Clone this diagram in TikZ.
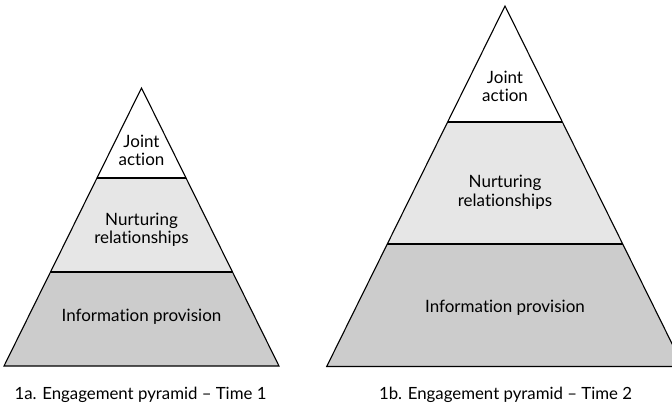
\documentclass[tikz,border=0pt]{standalone}
\usepackage{fontspec}
\setmainfont{Lato}[Ligatures={NoCommon}]
\tikzset{
  band/.style={draw=black, line width=1.1pt, line join=miter},
  lbl/.style={anchor=base, font=\fontsize{17}{19}\selectfont, inner sep=0pt},
  caption/.style={anchor=base, font=\fontsize{16.8}{19}\selectfont, inner sep=0pt}
}
\definecolor{midgray}{HTML}{E6E6E6}
\definecolor{lowgray}{HTML}{CCCCCC}
\begin{document}
\begin{tikzpicture}[x=1pt,y=-1pt]
\useasboundingbox (0,0) rectangle (672,405);
\def\k{0.4946}
% Left pyramid: apex (141.5,88), base y=366
\coordinate (LA) at (141.5,88);
\coordinate (L1l) at ({141.5-\k*90},178);
\coordinate (L1r) at ({141.5+\k*90},178);
\coordinate (L2l) at ({141.5-\k*184},272);
\coordinate (L2r) at ({141.5+\k*184},272);
\coordinate (L3l) at ({141.5-\k*278},366);
\coordinate (L3r) at ({141.5+\k*278},366);
\fill[lowgray] (L2l) -- (L2r) -- (L3r) -- (L3l) -- cycle;
\fill[midgray] (L1l) -- (L1r) -- (L2r) -- (L2l) -- cycle;
\draw[band] (LA) -- (L3r) -- (L3l) -- cycle;
\draw[band] (L1l) -- (L1r);
\draw[band] (L2l) -- (L2r);
\node[lbl] (lj1) at (141.5,147) {Joint};
\node[lbl] (lj2) at (141.5,165.5) {action};
\node[lbl] (ln1) at (141.5,225) {Nurturing};
\node[lbl] (ln2) at (141.5,243.5) {relationships};
\node[lbl] (lip) at (141.5,321) {Information provision};
\node[caption] (lcap) at (140.5,399) {1a. Engagement pyramid – Time 1};
% Right pyramid: apex (505,6), base y=366.5
\coordinate (RA) at (505,6);
\coordinate (R1l) at ({505-\k*116},122);
\coordinate (R1r) at ({505+\k*116},122);
\coordinate (R2l) at ({505-\k*238},244);
\coordinate (R2r) at ({505+\k*238},244);
\coordinate (R3l) at ({505-\k*360.5},366.5);
\coordinate (R3r) at ({505+\k*360.5},366.5);
\fill[lowgray] (R2l) -- (R2r) -- (R3r) -- (R3l) -- cycle;
\fill[midgray] (R1l) -- (R1r) -- (R2r) -- (R2l) -- cycle;
\draw[band] (RA) -- (R3r) -- (R3l) -- cycle;
\draw[band] (R1l) -- (R1r);
\draw[band] (R2l) -- (R2r);
\node[lbl] (rj1) at (505,83) {Joint};
\node[lbl] (rj2) at (505,101.5) {action};
\node[lbl] (rn1) at (505,187.5) {Nurturing};
\node[lbl] (rn2) at (505,206) {relationships};
\node[lbl] (rip) at (505,312.5) {Information provision};
\node[caption] (rcap) at (505.5,399) {1b. Engagement pyramid – Time 2};
\end{tikzpicture}
\end{document}
